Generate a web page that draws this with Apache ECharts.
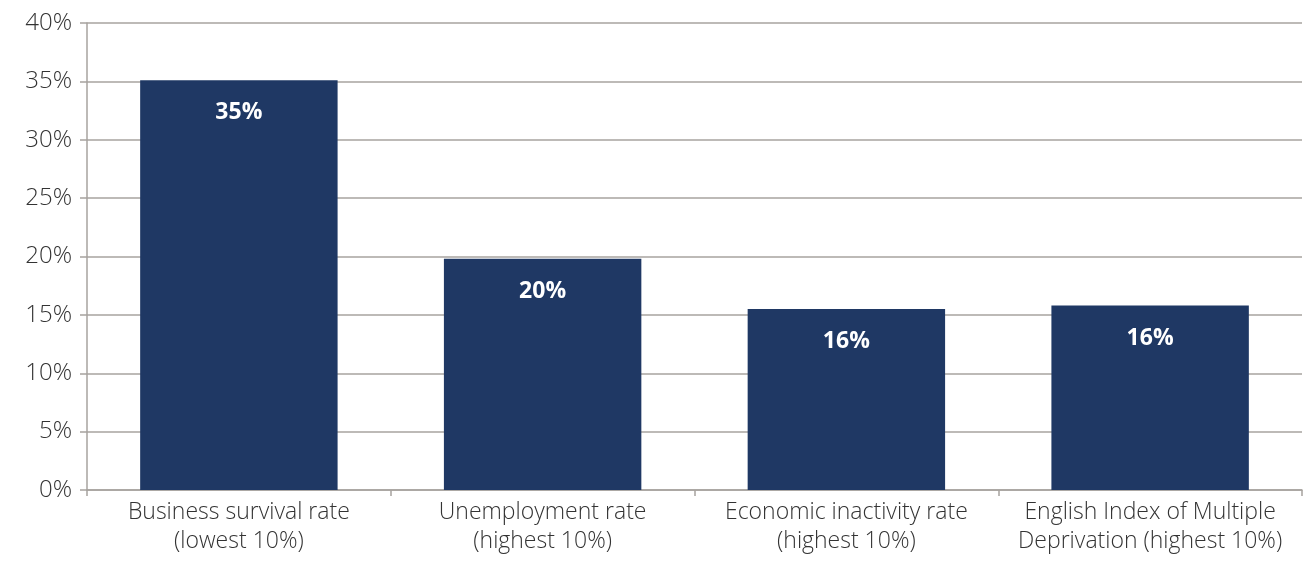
<!DOCTYPE html>
<html>
<head>
<meta charset="utf-8">
<script src="https://cdn.jsdelivr.net/npm/echarts@6/dist/echarts.min.js"></script>
<style>
html,body{margin:0;padding:0;background:#fff;}
#c{width:1303px;height:562px;}
</style>
</head>
<body>
<div id="c"></div>
<script>
const categories = [
  "Business survival rate\n(lowest 10%)",
  "Unemployment rate\n(highest 10%)",
  "Economic inactivity rate\n(highest 10%)",
  "English Index of Multiple\nDeprivation (highest 10%)"
];
const values = [35.1, 19.8, 15.5, 15.8];
const yTicks = [0, 5, 10, 15, 20, 25, 30, 35, 40];

const chart = echarts.init(document.getElementById('c'));
const font = '"Open Sans", "Noto Sans", sans-serif';
chart.setOption({
  animation: false,
  grid: {left: 87, right: 1, top: 23, bottom: 72, containLabel: false},
  xAxis: {
    type: 'category',
    data: categories,
    axisLine: {lineStyle: {color: '#a7a39f', width: 1.5}},
    axisTick: {show: true, length: 6, lineStyle: {color: '#a7a39f', width: 1.5}},
    axisLabel: {color: '#333', fontSize: 23, fontWeight: 300, fontFamily: font, lineHeight: 29, margin: 8, interval: 0}
  },
  yAxis: {
    type: 'value',
    min: 0, max: 40, interval: 5,
    axisLine: {show: true, lineStyle: {color: '#a7a39f', width: 1.5}},
    axisTick: {show: true, inside: false, length: 7, lineStyle: {color: '#a7a39f', width: 1.5}},
    splitLine: {show: true, lineStyle: {color: '#a7a39f', width: 1.5}},
    axisLabel: {color: '#333', fontSize: 24, fontWeight: 300, fontFamily: font, margin: 15,
      formatter: v => yTicks.includes(v) ? v + '%' : ''}
  },
  series: [{
    type: 'bar',
    data: values,
    barCategoryGap: '35%',
    itemStyle: {color: '#1f3864'},
    label: {
      show: true, position: 'insideTop', distance: 21,
      color: '#fff', fontSize: 23, fontWeight: 'bold', fontFamily: font,
      formatter: p => Math.round(p.value) + '%'
    }
  }]
});
</script>
</body>
</html>
